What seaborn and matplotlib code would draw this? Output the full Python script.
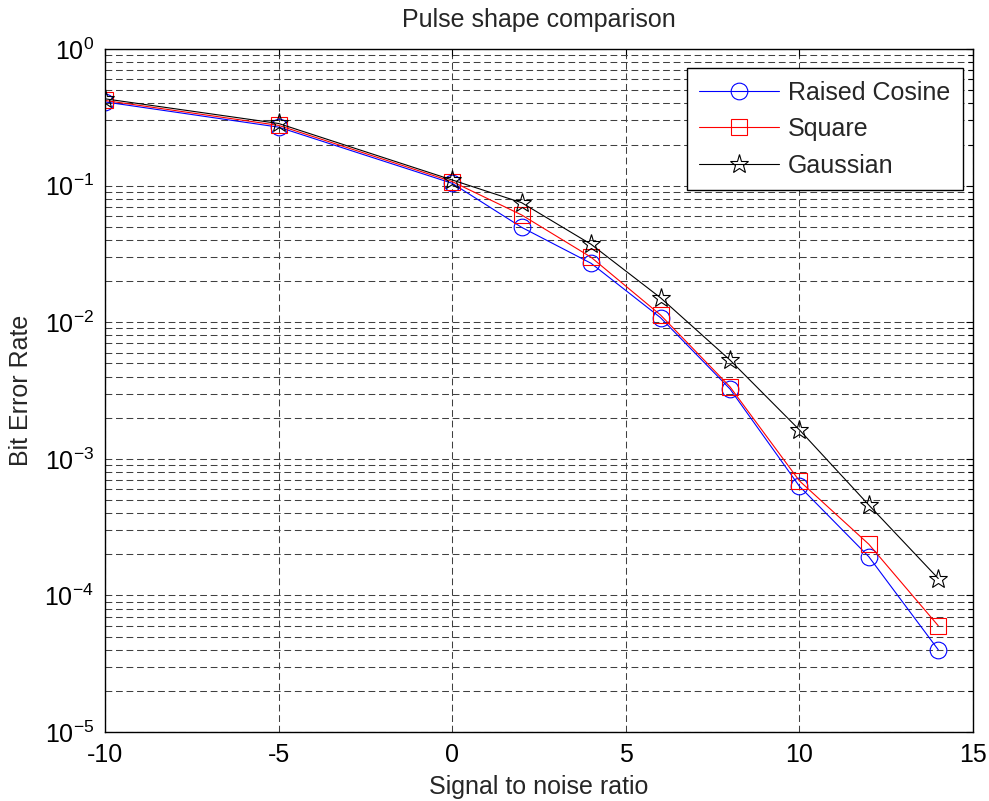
import numpy as np
import pandas as pd
import matplotlib
matplotlib.use('Agg')
import matplotlib.pyplot as plt
import seaborn as sns
from matplotlib.ticker import LogLocator, NullFormatter

# Datos (BER vs SNR para tres formas de pulso)
snr = [-10, -5, 0, 2, 4, 6, 8, 10, 12, 14]
ber_raised_cosine = [0.41, 0.268, 0.104, 0.0495, 0.027, 0.0108, 0.00325, 0.00063, 0.000192, 0.00004]
ber_square = [0.42, 0.276, 0.107, 0.061, 0.0299, 0.0113, 0.00337, 0.00069, 0.000237, 0.00006]
ber_gaussian = [0.432, 0.285, 0.110, 0.075, 0.0372, 0.0151, 0.00529, 0.00163, 0.000459, 0.000133]

series = ['Raised Cosine', 'Square', 'Gaussian']

df = pd.DataFrame({
    'snr': snr * 3,
    'ber': ber_raised_cosine + ber_square + ber_gaussian,
    'pulso': [s for s in series for _ in snr],
})

sns.set_style('white')
plt.rcParams['font.family'] = ['Liberation Sans', 'DejaVu Sans']
plt.rcParams['axes.unicode_minus'] = False
fs = 18

fig = plt.figure(figsize=(9.89, 8.01), dpi=100)
ax = fig.add_axes([0.1062, 0.0861, 0.8776, 0.8527])

estilos = {
    'Raised Cosine': dict(color='#0000ff', marker='o', markersize=12),
    'Square': dict(color='#ff0000', marker='s', markersize=11.5),
    'Gaussian': dict(color='black', marker='*', markersize=14),
}

for nombre in series:
    sub = df[df['pulso'] == nombre]
    st = estilos[nombre]
    sns.lineplot(x='snr', y='ber', data=sub, ax=ax, label=nombre,
                 color=st['color'], marker=st['marker'], markersize=st['markersize'],
                 markerfacecolor='none', markeredgecolor=st['color'],
                 markeredgewidth=0.8, linewidth=0.8)

ax.set_yscale('log')
ax.set_xlim(-10, 15)
ax.set_ylim(1e-5, 1)
ax.set_xticks([-10, -5, 0, 5, 10, 15])
ax.yaxis.set_major_locator(LogLocator(base=10, numticks=10))
ax.yaxis.set_minor_locator(LogLocator(base=10, subs=np.arange(2, 10), numticks=100))
ax.yaxis.set_minor_formatter(NullFormatter())

# Rejilla discontinua estilo MATLAB
grid_kw = dict(color='0.25', linewidth=0.75, linestyle=(0, (6.5, 3.6)))
ax.grid(True, which='major', axis='both', **grid_kw)
ax.grid(True, which='minor', axis='y', **grid_kw)
ax.set_axisbelow(True)

ax.tick_params(which='both', direction='in', top=True, right=True, labelsize=fs, colors='black')
ax.tick_params(which='major', length=5, width=0.8)
ax.tick_params(which='minor', length=3.5, width=0.8)
ax.tick_params(axis='x', pad=8)
ax.tick_params(axis='y', pad=8)

for sp in ax.spines.values():
    sp.set_visible(True)
    sp.set_color('black')
    sp.set_linewidth(1.0)

ax.set_title('Pulse shape comparison', fontsize=fs, pad=16)
ax.set_xlabel('Signal to noise ratio', fontsize=fs)
ax.xaxis.set_label_coords(0.5, -0.063)
ax.set_ylabel('Bit Error Rate', fontsize=fs)
ax.yaxis.set_label_coords(-0.083, 0.5)

leg = ax.legend(loc='upper right', bbox_to_anchor=(0.9885, 0.9722), borderaxespad=0,
                fontsize=fs, frameon=True, fancybox=False, framealpha=1, edgecolor='black',
                handlelength=3.2, handletextpad=0.36, labelspacing=0.5, numpoints=1,
                borderpad=0.5)
leg.get_frame().set_linewidth(1.0)

fig.savefig('out.png', dpi=100)
